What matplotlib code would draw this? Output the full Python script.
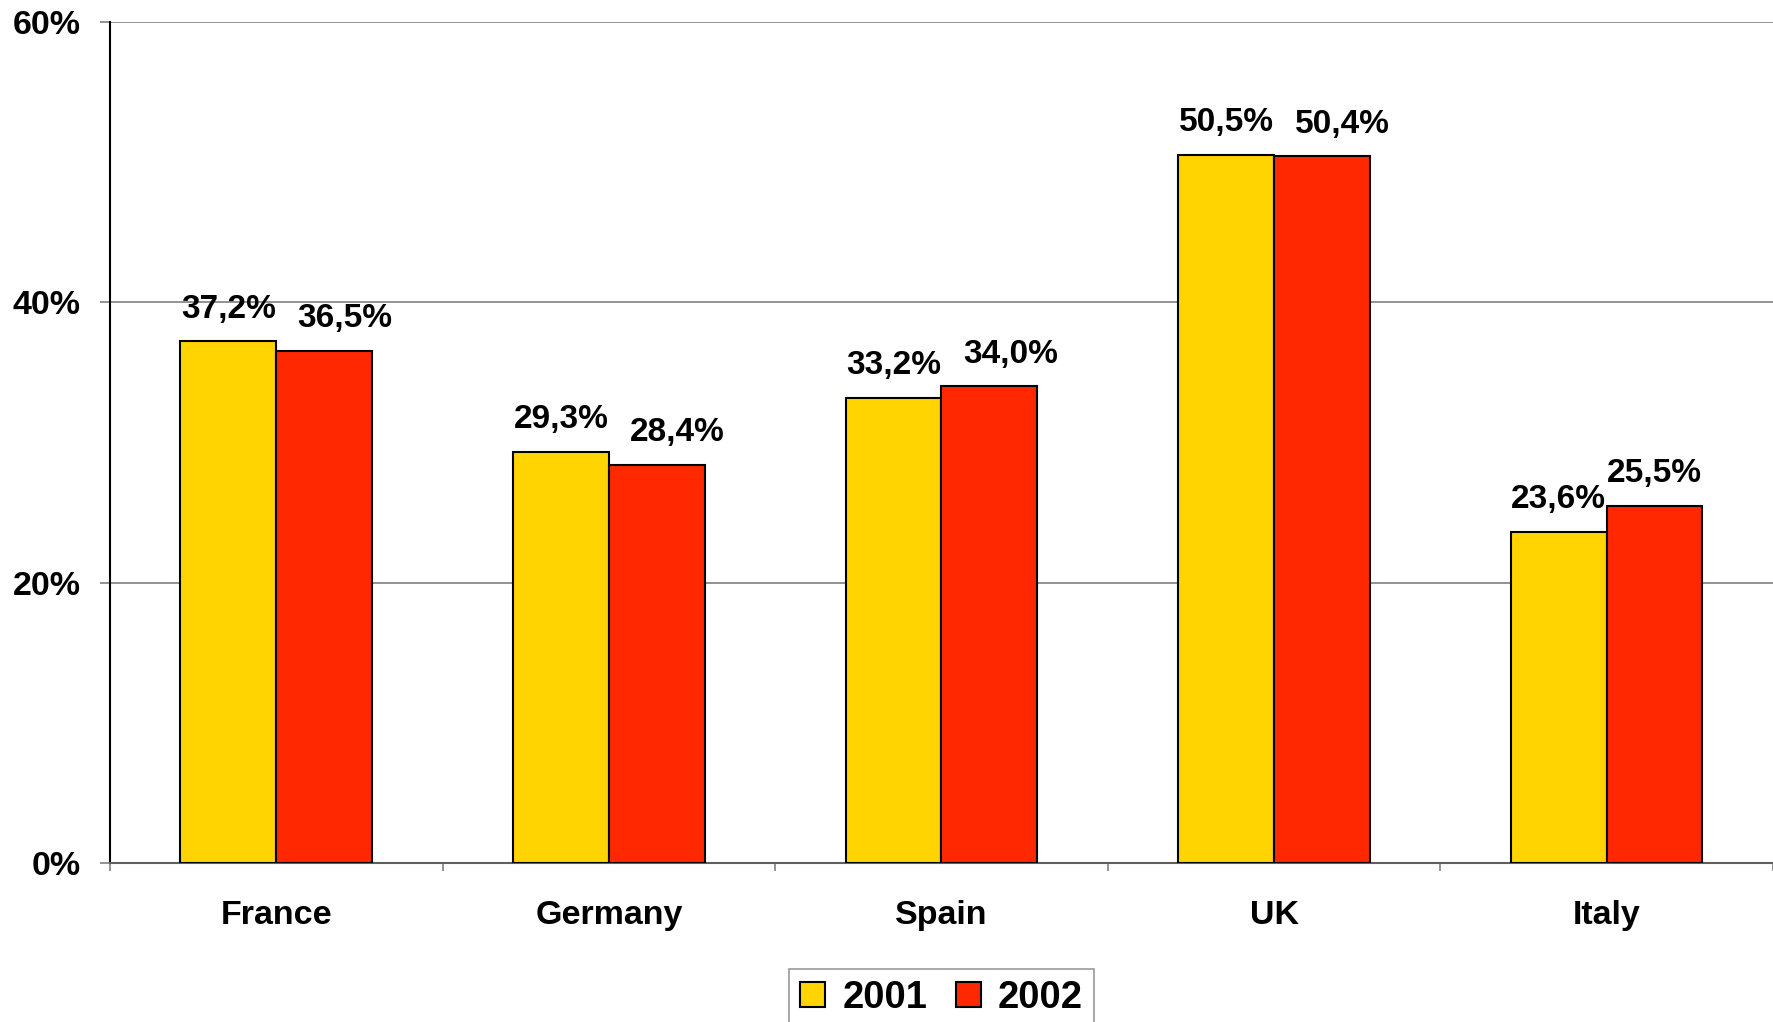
import numpy as np
import matplotlib
matplotlib.use('Agg')
import matplotlib.pyplot as plt
from matplotlib.ticker import FixedLocator, NullFormatter

plt.rcParams['font.family'] = ['Liberation Sans', 'DejaVu Sans']
plt.rcParams['font.weight'] = 'bold'

# datos
paises = ['France', 'Germany', 'Spain', 'UK', 'Italy']
anios = ['2001', '2002']
v2001 = [37.2, 29.3, 33.2, 50.5, 23.6]
v2002 = [36.5, 28.4, 34.0, 50.4, 25.5]
colores = ['#FFD400', '#FF2800']

fig = plt.figure(figsize=(17.73, 10.22), dpi=100)
ax = fig.add_axes([0.062, 0.1556, 0.938, 0.823])

x = np.arange(len(paises))
ancho = 0.288
series = [v2001, v2002]
for i, (vals, col, lab) in enumerate(zip(series, colores, anios)):
    pos = x + (i - 0.5) * ancho
    barras = ax.bar(pos, vals, ancho, color=col, edgecolor='black', linewidth=1.5,
                    label=lab, zorder=3)
    for k, (b, v) in enumerate(zip(barras, vals)):
        # la etiqueta de 2002 se corre a la derecha si choca con la de 2001
        dx = 0
        if i == 1 and abs(v - v2001[k]) < 1.5:
            dx = 15
        ax.annotate(f'{v:.1f}%'.replace('.', ','),
                    (b.get_x() + b.get_width() / 2, v + 1.2),
                    xytext=(dx, 0), textcoords='offset points',
                    ha='center', va='bottom', fontsize=24, fontweight='bold',
                    zorder=4)

ax.set_xlim(-0.5, len(paises) - 0.5)
ax.set_ylim(0, 60)
ax.set_yticks([0, 20, 40, 60])
ax.set_yticklabels(['0%', '20%', '40%', '60%'], fontsize=24.5, fontweight='bold')
ax.yaxis.grid(True, color='#808080', linewidth=1.2, zorder=0)

ax.set_xticks(x)
ax.set_xticklabels(paises, fontsize=24.5, fontweight='bold')
ax.tick_params(axis='x', which='major', length=0, pad=27)
ax.xaxis.set_minor_locator(FixedLocator(np.arange(-0.5, len(paises), 1.0)))
ax.xaxis.set_minor_formatter(NullFormatter())
ax.tick_params(axis='x', which='minor', length=6, width=1.2, color='#808080')
ax.tick_params(axis='y', length=7, width=1.2, color='#808080', pad=14)

for s in ['top', 'right']:
    ax.spines[s].set_visible(False)
ax.spines['left'].set_linewidth(1.5)
ax.spines['bottom'].set_color('#606060')
ax.spines['bottom'].set_linewidth(1.5)

leg = fig.legend(loc='upper center', bbox_to_anchor=(0.531, 0.0523), ncol=2,
                 fontsize=27.5, frameon=True, fancybox=False, edgecolor='#808080',
                 handlelength=0.65, handleheight=0.65, handletextpad=0.45,
                 columnspacing=0.75, borderpad=0.3, borderaxespad=0)
leg.get_frame().set_linewidth(1.2)
for t in leg.get_texts():
    t.set_fontweight('bold')

fig.savefig('out.png', dpi=100)
